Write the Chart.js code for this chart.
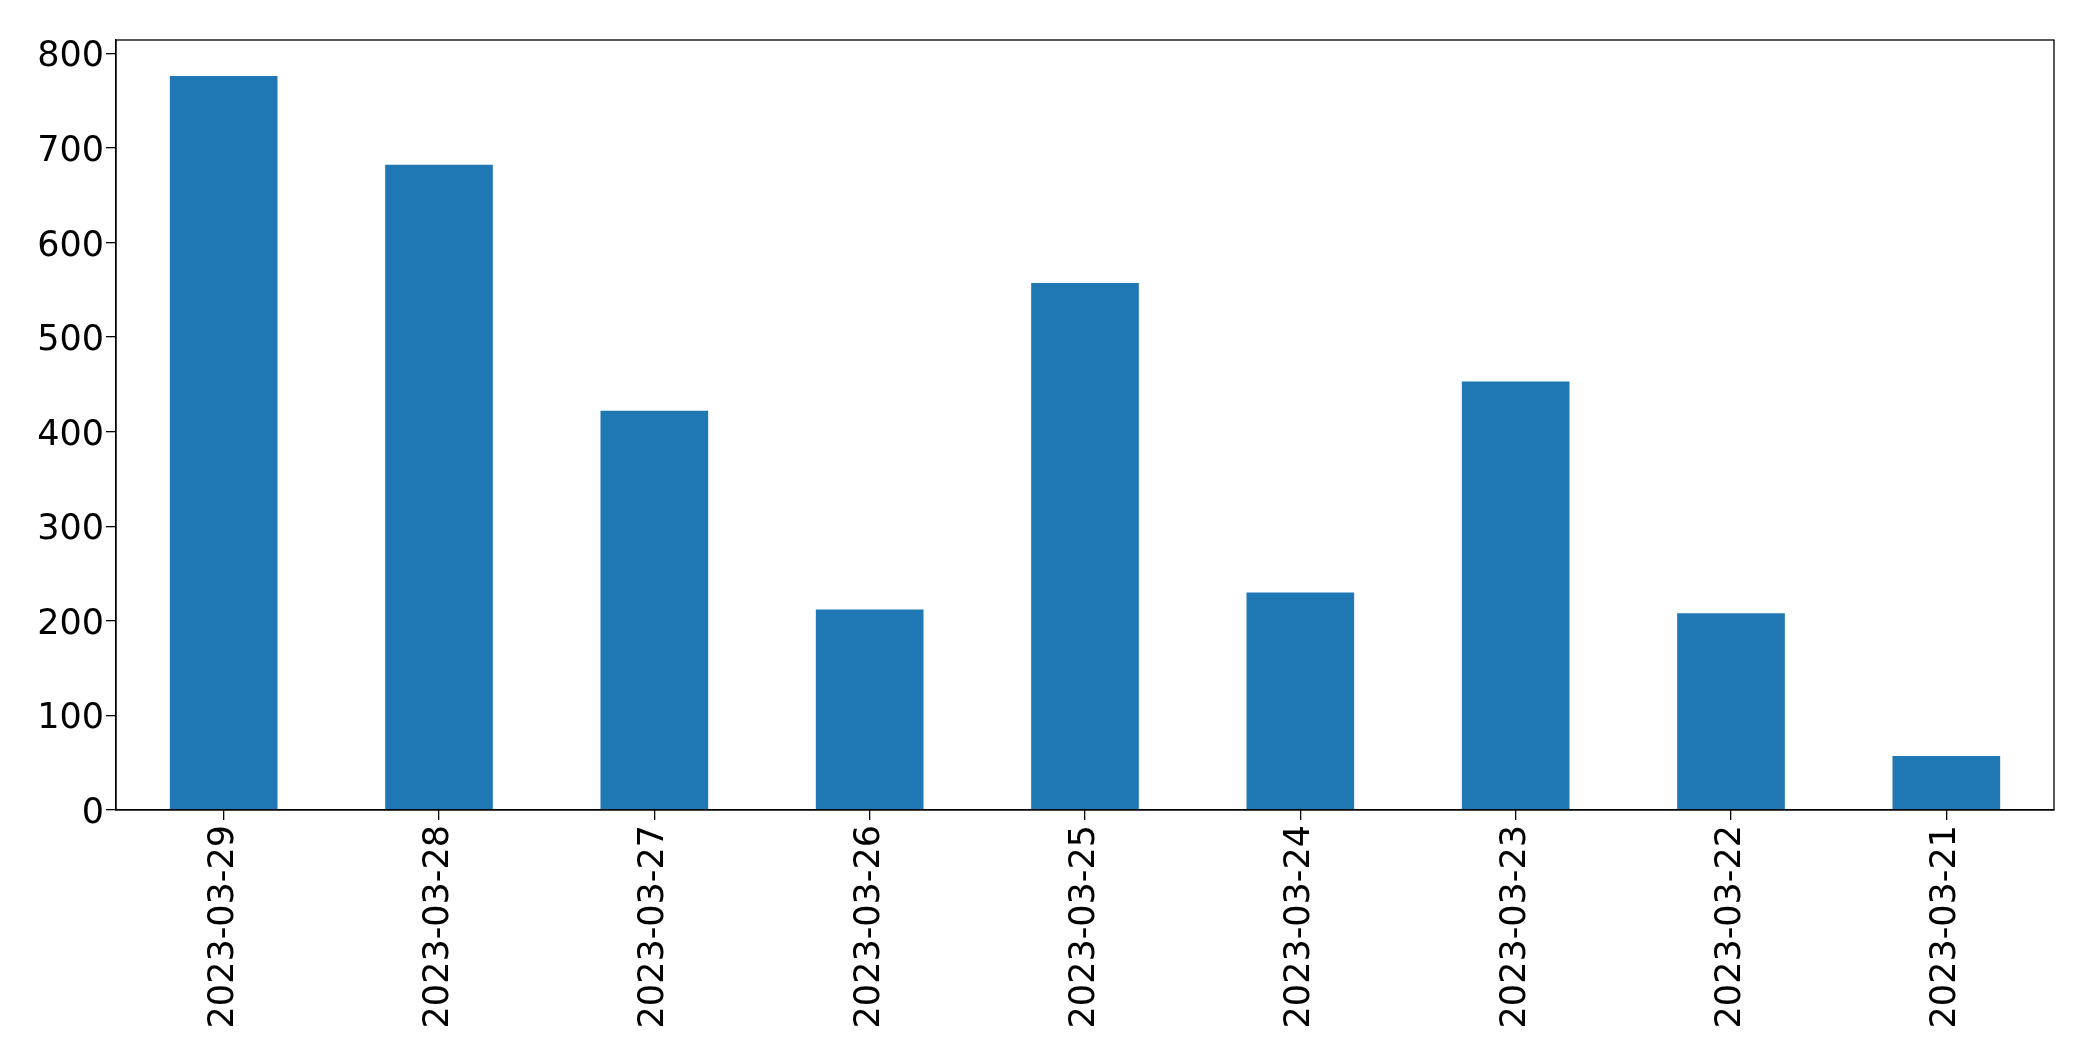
<!DOCTYPE html>
<html>
<head>
<meta charset="utf-8">
<script src="https://cdn.jsdelivr.net/npm/chart.js@4"></script>
<style>
    html, body { margin: 0; padding: 0; background: #fff; }
    #wrap { width: 2093px; height: 1062px; }
</style>
</head>
<body>
<div id="wrap"><canvas id="barChart" width="2093" height="1062"></canvas></div>
<script>
// Data
const dates = ['2023-03-29', '2023-03-28', '2023-03-27', '2023-03-26', '2023-03-25',
               '2023-03-24', '2023-03-23', '2023-03-22', '2023-03-21'];
const counts = [776, 682, 422, 212, 557, 230, 453, 208, 57];
const yTicks = [0, 100, 200, 300, 400, 500, 600, 700, 800];
const yMax = 814;

// Frame around the plot area (matplotlib style box)
const frame = {
    id: 'frame',
    afterDraw(chart) {
        const a = chart.chartArea;
        const ctx = chart.ctx;
        ctx.save();
        ctx.strokeStyle = '#000';
        ctx.lineWidth = 1.3;
        ctx.strokeRect(a.left, a.top, a.right - a.left, a.bottom - a.top);
        ctx.restore();
    }
};

document.addEventListener('DOMContentLoaded', () => {
    const ctx = document.getElementById('barChart').getContext('2d');
    new Chart(ctx, {
        type: 'bar',
        data: {
            labels: dates,
            datasets: [{
                data: counts,
                backgroundColor: '#1f77b4',
                borderWidth: 0,
                barPercentage: 0.5,
                categoryPercentage: 1.0
            }]
        },
        options: {
            responsive: false,
            animation: false,
            layout: { padding: { top: 40, right: 39, left: 0, bottom: 0 } },
            plugins: {
                legend: { display: false },
                tooltip: { enabled: false }
            },
            scales: {
                x: {
                    grid: { display: true, offset: false, drawOnChartArea: false, tickLength: 10, color: '#000', lineWidth: 1.3 },
                    border: { display: true, color: '#000', width: 1.3 },
                    ticks: {
                        color: '#000',
                        font: { family: 'DejaVu Sans', size: 35 },
                        minRotation: 90,
                        maxRotation: 90,
                        padding: 5
                    },
                    afterFit(scale) { scale.height = 252; }
                },
                y: {
                    min: 0,
                    max: yMax,
                    afterBuildTicks(scale) {
                        scale.ticks = yTicks.map(v => ({ value: v }));
                    },
                    grid: { display: true, drawOnChartArea: false, tickLength: 10, color: '#000', lineWidth: 1.3 },
                    border: { display: true, color: '#000', width: 1.3 },
                    ticks: {
                        color: '#000',
                        font: { family: 'DejaVu Sans', size: 35 },
                        padding: 2,
                        labelOffset: 4
                    },
                    afterFit(scale) { scale.width = 116; }
                }
            }
        },
        plugins: [frame]
    });
});
</script>
</body>
</html>
